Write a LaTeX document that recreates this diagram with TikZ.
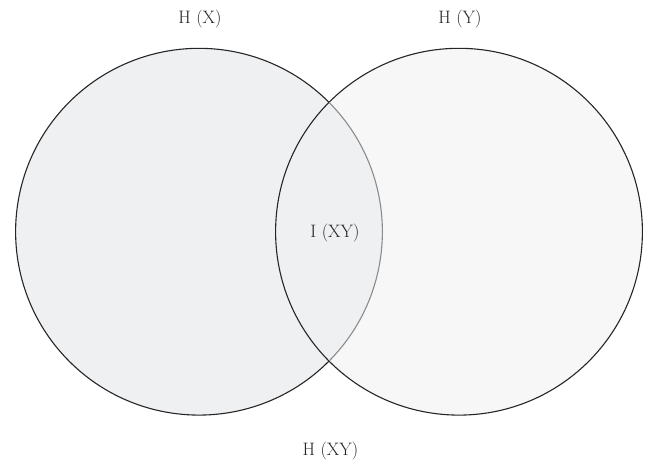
\documentclass[tikz,border=0pt]{standalone}
\begin{document}
\begin{tikzpicture}[x=1pt,y=-1pt,
  lbl/.style={font=\fontsize{18}{20}\selectfont, text=black!85, inner sep=0pt},
  edge/.style={line width=1.1pt}]
\useasboundingbox (0,0) rectangle (650,466);
\definecolor{leftfill}{HTML}{EFF0F2}
\definecolor{rightfill}{HTML}{F7F7F7}
\coordinate (cl) at (199,231.7);
\coordinate (cr) at (459,231.7);
\fill[rightfill] (cr) circle (183.4);
\fill[leftfill] (cl) circle (183.4);
\draw[edge, black!85] (cr) circle (183.4);
% left circle: outer arc black, inner arc gray
\draw[edge, black!85] (cl) ++(44.8:183.4) arc[start angle=44.8, end angle=315.2, radius=183.4];
\draw[edge, black!45] (cl) ++(-44.8:183.4) arc[start angle=-44.8, end angle=44.8, radius=183.4];
\node[lbl] (hx) at (200,19) {H (X)};
\node[lbl] (hy) at (460,19) {H (Y)};
\node[lbl] (ixy) at (335,233) {I (XY)};
\node[lbl] (hxy) at (330.5,451) {H (XY)};
\end{tikzpicture}
\end{document}
